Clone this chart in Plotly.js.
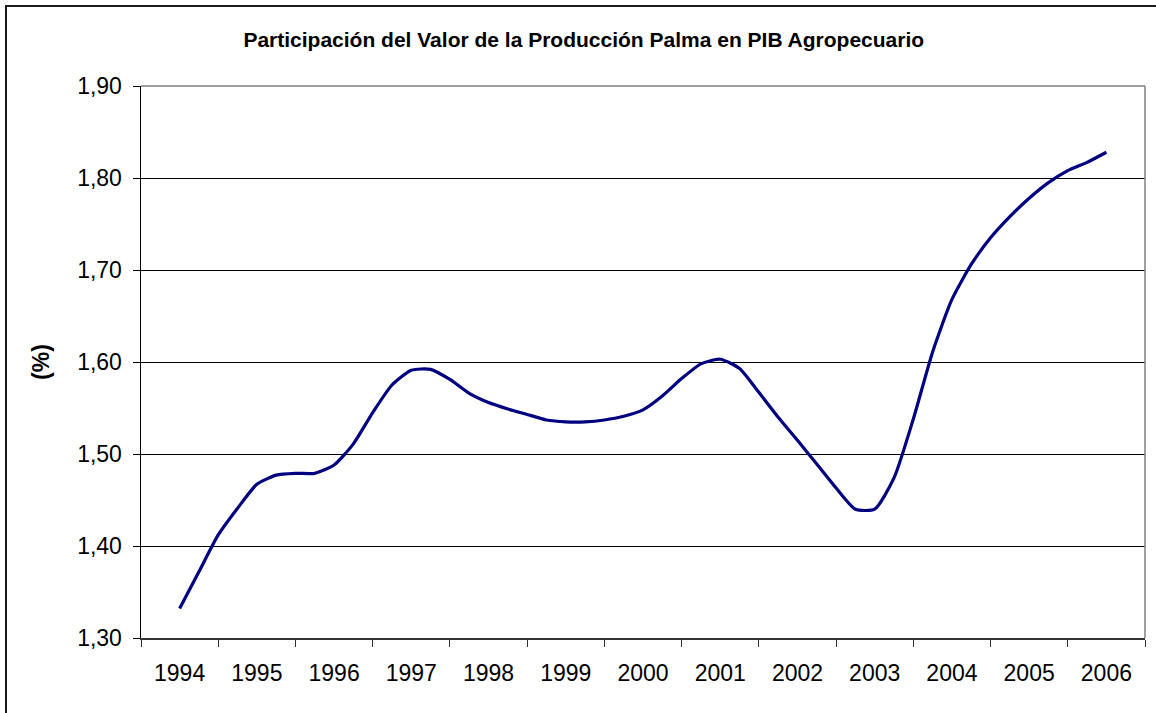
<!DOCTYPE html>
<html>
<head>
<meta charset="utf-8">
<script src="https://cdn.plot.ly/plotly-3.0.1.min.js"></script>
<style>
  html, body { margin: 0; padding: 0; background: #ffffff; }
  #wrap { position: relative; width: 1156px; height: 713px; overflow: hidden; }
  #frame { position: absolute; left: 5px; top: 5px; width: 1160px; height: 720px;
           border-left: 2px solid #1a1a1a; border-top: 2px solid #1a1a1a; pointer-events: none; }
  #chart { position: absolute; left: 0; top: 0; width: 1156px; height: 713px; }
</style>
</head>
<body>
<div id="wrap">
  <div id="chart"></div>
  <div id="frame"></div>
</div>
<script>
// Category labels (years)
const years = [1994, 1995, 1996, 1997, 1998, 1999, 2000, 2001, 2002, 2003, 2004, 2005, 2006];

// Quarterly time points (fractional years, year centre = integer year)
const time = [
  1994.00, 1994.25, 1994.50, 1994.75,
  1995.00, 1995.25, 1995.50, 1995.75,
  1996.00, 1996.25, 1996.50, 1996.75,
  1997.00, 1997.25, 1997.50, 1997.75,
  1998.00, 1998.25, 1998.50, 1998.75,
  1999.00, 1999.25, 1999.50, 1999.75,
  2000.00, 2000.25, 2000.50, 2000.75,
  2001.00, 2001.25, 2001.50, 2001.75,
  2002.00, 2002.25, 2002.50, 2002.75,
  2003.00, 2003.25, 2003.50, 2003.75,
  2004.00, 2004.25, 2004.50, 2004.75,
  2005.00, 2005.25, 2005.50, 2005.75,
  2006.00
];

// Participación (%)
const participacion = [
  1.332, 1.372, 1.412, 1.441,
  1.467, 1.477, 1.479, 1.479,
  1.488, 1.511, 1.545, 1.575,
  1.591, 1.592, 1.581, 1.566,
  1.556, 1.549, 1.543, 1.537,
  1.535, 1.535, 1.537, 1.541,
  1.548, 1.563, 1.582, 1.598,
  1.603, 1.593, 1.567, 1.540,
  1.515, 1.489, 1.463, 1.440,
  1.440, 1.474, 1.538, 1.611,
  1.668, 1.706, 1.735, 1.758,
  1.778, 1.795, 1.808, 1.817,
  1.828
];

const titleText = 'Participación del Valor de la Producción Palma en PIB Agropecuario';
const yTitle = '(%)';

const trace = {
  x: time,
  y: participacion,
  type: 'scatter',
  mode: 'lines',
  line: { color: '#000080', width: 3.2, shape: 'spline', smoothing: 0.6 },
  hoverinfo: 'x+y',
  showlegend: false
};

const layout = {
  width: 1156,
  height: 713,
  margin: { l: 141, r: 11, t: 86, b: 75 },
  paper_bgcolor: '#ffffff',
  plot_bgcolor: '#ffffff',
  separators: ',.',
  font: { family: 'Liberation Sans, Arial, sans-serif', size: 23, color: '#000000' },
  title: {
    text: titleText,
    font: { family: 'Liberation Sans, Arial, sans-serif', size: 21, color: '#000000', weight: 'bold' },
    x: 0.505, xref: 'container', xanchor: 'center',
    y: 0.945, yref: 'container', yanchor: 'middle'
  },
  xaxis: {
    range: [years[0] - 0.5, years[years.length - 1] + 0.5],
    tickmode: 'array',
    tickvals: years,
    ticktext: years.map(String),
    ticks: '',
    ticklabelstandoff: 14,
    minor: {
      tick0: years[0] - 0.5,
      dtick: 1,
      ticks: 'outside',
      ticklen: 7,
      tickwidth: 1,
      tickcolor: '#333333',
      showgrid: false
    },
    showline: true,
    linecolor: '#333333',
    linewidth: 1.5,
    showgrid: false,
    zeroline: false,
    tickfont: { size: 23, color: '#000000' },
    fixedrange: true
  },
  yaxis: {
    range: [1.30, 1.90],
    tickmode: 'linear',
    tick0: 1.30,
    dtick: 0.10,
    tickformat: '.2f',
    ticks: 'outside',
    ticklen: 7,
    tickwidth: 1,
    tickcolor: '#000000',
    ticklabelstandoff: 6,
    showline: true,
    linecolor: '#000000',
    linewidth: 1.5,
    showgrid: true,
    gridcolor: '#000000',
    gridwidth: 1,
    zeroline: false,
    tickfont: { size: 23, color: '#000000' },
    title: {
      text: yTitle,
      font: { size: 23, color: '#000000', weight: 'bold' },
      standoff: 21
    },
    fixedrange: true
  },
  shapes: [
    { type: 'line', xref: 'paper', yref: 'paper', x0: 0, x1: 1, y0: 1, y1: 1,
      line: { color: '#808080', width: 1.5 }, layer: 'above' },
    { type: 'line', xref: 'paper', yref: 'paper', x0: 1, x1: 1, y0: 0, y1: 1,
      line: { color: '#808080', width: 1.5 }, layer: 'above' }
  ]
};

Plotly.newPlot('chart', [trace], layout, { displayModeBar: false, staticPlot: true });
</script>
</body>
</html>
